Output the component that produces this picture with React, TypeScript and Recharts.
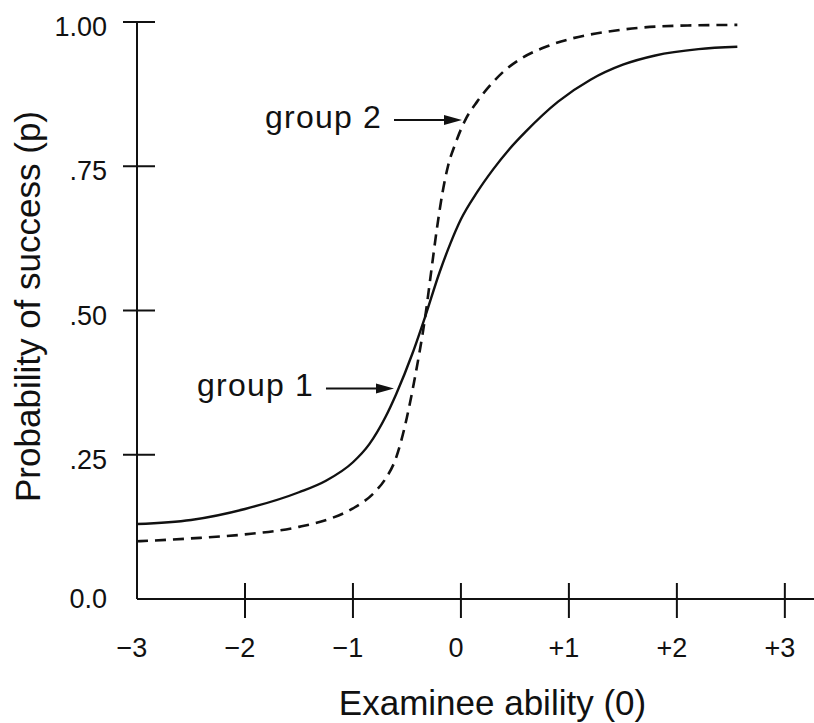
import { LineChart, Line, XAxis, YAxis, ReferenceDot } from 'recharts'

// ability (theta) / probability readings for each curve
const theta1 = [-3, -2.5, -2, -1.5, -1.25, -1, -0.85, -0.7, -0.6, -0.45, -0.33, -0.2, -0.1, 0, 0.15, 0.3, 0.45, 0.6, 0.9, 1.2, 1.5, 1.8, 2.2, 2.56]
const group1 = [0.13, 0.137, 0.156, 0.185, 0.205, 0.237, 0.268, 0.315, 0.355, 0.425, 0.49, 0.565, 0.615, 0.658, 0.705, 0.745, 0.78, 0.81, 0.862, 0.9, 0.926, 0.942, 0.953, 0.957]

const theta2 = [-3, -2.5, -2, -1.5, -1.2, -1, -0.8, -0.7, -0.6, -0.5, -0.43, -0.33, -0.27, -0.22, -0.17, -0.12, -0.05, 0.04, 0.15, 0.27, 0.4, 0.57, 0.8, 1.04, 1.35, 1.66, 2.1, 2.56]
const group2 = [0.1, 0.105, 0.112, 0.125, 0.14, 0.157, 0.185, 0.208, 0.245, 0.315, 0.38, 0.49, 0.575, 0.645, 0.705, 0.75, 0.79, 0.83, 0.862, 0.89, 0.915, 0.938, 0.958, 0.972, 0.983, 0.99, 0.994, 0.995]

const xTicks = [-3, -2, -1, 0, 1, 2, 3]
const xTickLabels = ['\u22123', '\u22122', '\u22121', '0', '+1', '+2', '+3']
const yTicks = [0, 0.25, 0.5, 0.75, 1]
const yTickLabels = ['0.0', '.25', '.50', '.75', '1.00']

const noteLabels = ['group 1', 'group 2']
const noteTheta = [-0.62, 0.01]
const noteP = [0.365, 0.83]

const FONT = '"Liberation Sans", Arial, Helvetica, sans-serif'
const INK = '#111'

const data1 = theta1.map((t, i) => ({ theta: t, p: group1[i] }))
const data2 = theta2.map((t, i) => ({ theta: t, p: group2[i] }))

const XTick = (props: any) => {
  const { x, y, payload, index } = props
  return (
    <g>
      {index > 0 && <line x1={x} x2={x} y1={y - 16} y2={y + 19} stroke={INK} strokeWidth={2} />}
      <text x={x - 5} y={y + 49} textAnchor="middle" dominantBaseline="central" fontFamily={FONT} fontSize={27} fill={INK}>
        {xTickLabels[xTicks.indexOf(payload.value)]}
      </text>
    </g>
  )
}

const YTick = (props: any) => {
  const { x, y, payload, index } = props
  return (
    <g>
      {index > 0 && <line x1={x - 14} x2={x + 18} y1={y} y2={y} stroke={INK} strokeWidth={2} />}
      <text x={x - 30} y={index > 0 ? y + 5 : y} textAnchor="end" dominantBaseline="central" fontFamily={FONT} fontSize={27} fill={INK}>
        {yTickLabels[yTicks.indexOf(payload.value)]}
      </text>
    </g>
  )
}

const Note = (label: string) => (props: any) => {
  const { cx, cy } = props
  return (
    <g>
      <text x={cx - 80} y={cy + 8} textAnchor="end" fontFamily={FONT} fontSize={32} letterSpacing={1.2} fill={INK}>
        {label}
      </text>
      <line x1={cx - 68} x2={cx - 14} y1={cy} y2={cy} stroke={INK} strokeWidth={2} />
      <polygon points={`${cx},${cy} ${cx - 18},${cy - 5} ${cx - 18},${cy + 5}`} fill={INK} />
    </g>
  )
}

export default function App() {
  return (
    <div style={{ position: 'absolute', left: 0, top: 0, width: 814, height: 723, background: '#fff' }}>
      <LineChart width={814} height={723} margin={{ top: 22, right: 0, bottom: 30, left: 0 }}>
        <XAxis
          dataKey="theta"
          type="number"
          domain={[-3, 3.27]}
          ticks={xTicks}
          height={94}
          tickSize={0}
          tickMargin={0}
          tickLine={false}
          axisLine={{ stroke: INK, strokeWidth: 2 }}
          tick={<XTick />}
          allowDataOverflow
          label={{
            content: (p: any) => {
              const vb = p.viewBox
              return (
                <text x={vb.x + vb.width / 2 + 17} y={715} textAnchor="middle" fontFamily={FONT} fontSize={35} fill={INK}>
                  Examinee ability (0)
                </text>
              )
            },
          }}
        />
        <YAxis
          type="number"
          domain={[0, 1]}
          ticks={yTicks}
          width={137}
          tickSize={0}
          tickMargin={0}
          tickLine={false}
          axisLine={{ stroke: INK, strokeWidth: 2 }}
          tick={<YTick />}
          label={{
            content: (p: any) => {
              const vb = p.viewBox
              const cy = vb.y + vb.height / 2 - 4
              return (
                <text x={40} y={cy} transform={`rotate(-90, 40, ${cy})`} textAnchor="middle" fontFamily={FONT} fontSize={35} fill={INK}>
                  Probability of success (p)
                </text>
              )
            },
          }}
        />
        <Line data={data1} dataKey="p" type="monotone" stroke={INK} strokeWidth={2.4} dot={false} isAnimationActive={false} />
        <Line data={data2} dataKey="p" type="monotone" stroke={INK} strokeWidth={2.6} strokeDasharray="11 7" dot={false} isAnimationActive={false} />
        {noteLabels.map((l, i) => (
          <ReferenceDot key={l} x={noteTheta[i]} y={noteP[i]} r={0} shape={Note(l)} ifOverflow="visible" />
        ))}
      </LineChart>
    </div>
  )
}
